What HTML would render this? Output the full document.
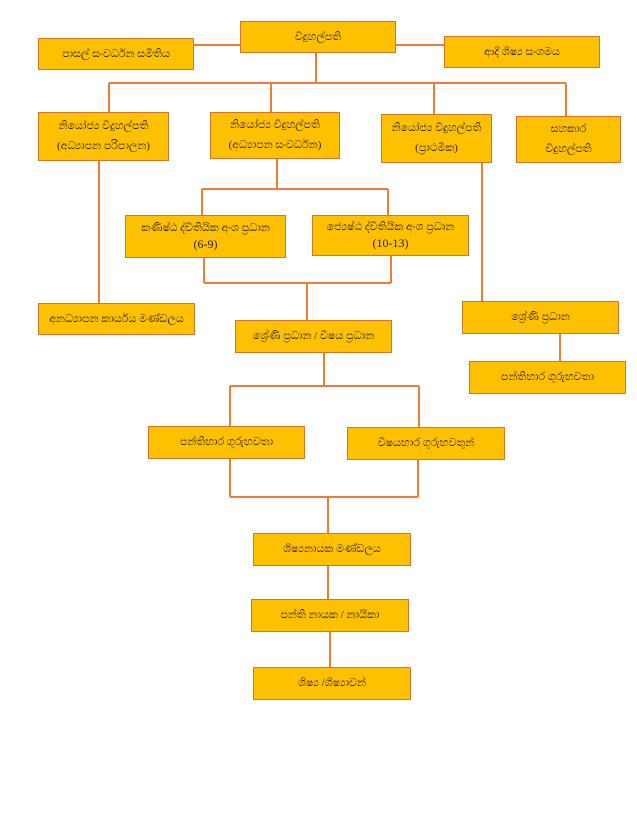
<!DOCTYPE html>
<html><head><meta charset="utf-8"><style>
body{margin:0;width:637px;height:820px;background:#fff;position:relative;overflow:hidden;font-family:"Liberation Serif","Noto Sans CJK SC",serif;}
.b{position:absolute;background:#FFC000;border:1.5px solid #D5752A;box-sizing:border-box;display:flex;flex-direction:column;align-items:center;justify-content:center;text-align:center;font-size:11px;color:#222;line-height:1.35;}
.b2{justify-content:space-around;padding:3px 0;}
svg{position:absolute;left:0;top:0;}
</style></head><body>
<svg width="637" height="820"><g stroke="#ED7D31" stroke-width="2" fill="none">
<path d="M194 45H240M396 45H444M316 53V83M109 83H566M109 83V112M271 83V112M434 83V114M566 83V116"/>
<path d="M99 160V303M277 158V189M202 189H388M202 189V215M388 189V215"/>
<path d="M204 257V283M391 255V283M204 283H391M307 283V320"/>
<path d="M482 162V301M560 333V361"/>
<path d="M324 352V386M230 386H419M230 386V426M419 386V427"/>
<path d="M230 458V497M418 459V497M230 497H418M328 497V533M328 565V599M330 631V667"/>
</g></svg>
<div class="b" style="left:240px;top:21px;width:156px;height:32px">විදුහල්පති</div>
<div class="b" style="left:38px;top:38px;width:156px;height:32px">පාසල් සංවර්ධන සමිතිය</div>
<div class="b" style="left:444px;top:36px;width:156px;height:32px">ආදි ශිෂ්‍ය සංගමය</div>
<div class="b b2" style="left:38px;top:112px;width:131px;height:49px"><span>නියෝජ්‍ය විදුහල්පති</span><span>(අධ්‍යාපන පරිපාලන)</span></div>
<div class="b b2" style="left:210px;top:112px;width:130px;height:47px"><span>නියෝජ්‍ය විදුහල්පති</span><span>(අධ්‍යාපන සංවර්ධන)</span></div>
<div class="b b2" style="left:381px;top:114px;width:111px;height:49px"><span>නියෝජ්‍ය විදුහල්පති</span><span>(ප්‍රාථමික)</span></div>
<div class="b b2" style="left:516px;top:116px;width:105px;height:47px"><span>සහකාර</span><span>විදුහල්පති</span></div>
<div class="b" style="left:125px;top:215px;width:161px;height:43px"><span>කණිෂ්ඨ ද්විතියික අංශ ප්‍රධාන</span><span style="font-size:12px">(6-9)</span></div>
<div class="b" style="left:312px;top:215px;width:157px;height:41px"><span>ජ්‍යෙෂ්ඨ ද්විතියික අංශ ප්‍රධාන</span><span style="font-size:12px">(10-13)</span></div>
<div class="b" style="left:38px;top:303px;width:157px;height:32px">අනධ්‍යාපන කාර්යය මණ්ඩලය</div>
<div class="b" style="left:235px;top:320px;width:157px;height:33px">ශ්‍රේණි ප්‍රධාන / විෂය ප්‍රධාන</div>
<div class="b" style="left:462px;top:301px;width:157px;height:33px">ශ්‍රේණි ප්‍රධාන</div>
<div class="b" style="left:469px;top:361px;width:157px;height:33px">පන්තිභාර ගුරුභවතා</div>
<div class="b" style="left:148px;top:426px;width:157px;height:33px">පන්තිභාර ගුරුභවතා</div>
<div class="b" style="left:347px;top:427px;width:158px;height:33px">විෂයභාර ගුරුභවතුන්</div>
<div class="b" style="left:253px;top:533px;width:158px;height:33px">ශිෂ්‍යනායක මණ්ඩලය</div>
<div class="b" style="left:251px;top:599px;width:158px;height:33px">පන්ති නායක / නායිකා</div>
<div class="b" style="left:253px;top:667px;width:158px;height:33px">ශිෂ්‍ය /ශිෂ්‍යාවන්</div>
</body></html>
